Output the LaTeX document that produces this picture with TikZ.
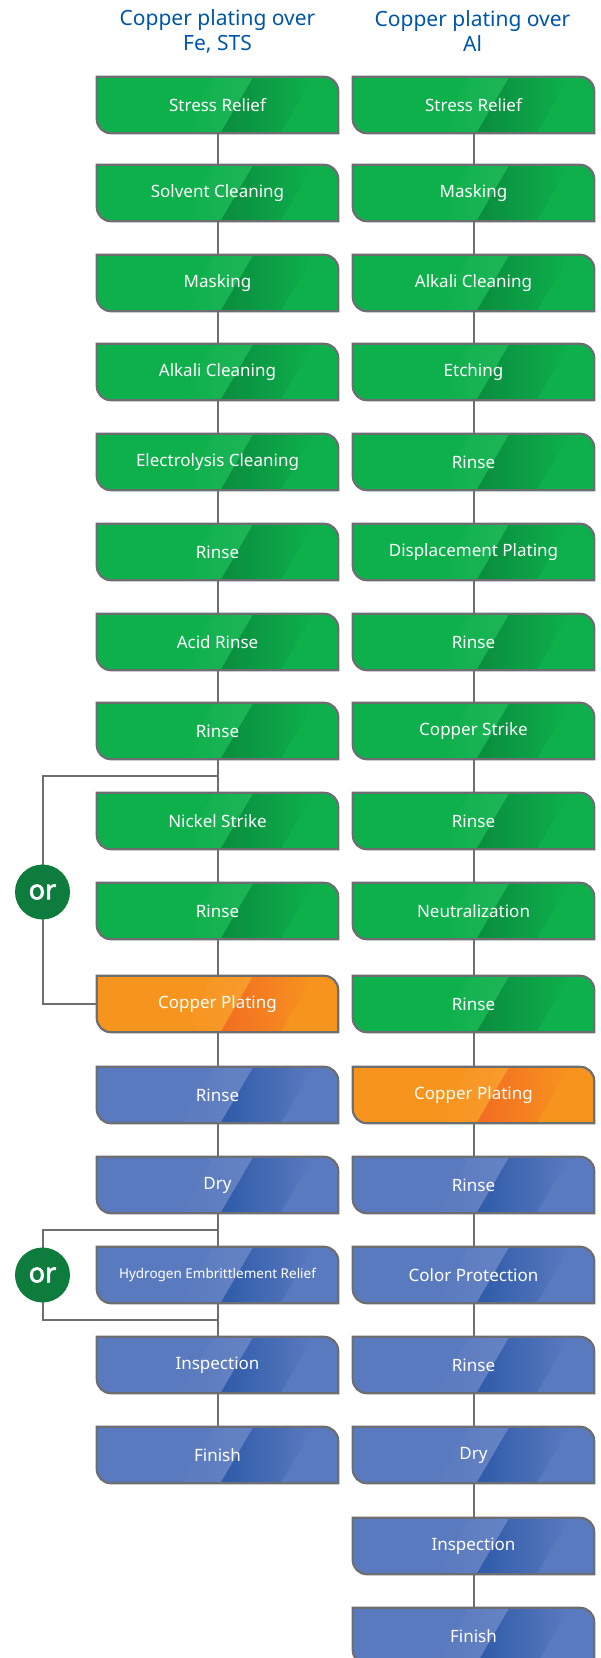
\documentclass[tikz,border=0pt]{standalone}
\usepackage{fontspec}
\setmainfont{Noto Sans}[AutoFakeBold=2.5]
\usepackage{tikz}
\usetikzlibrary{backgrounds, calc}

\definecolor{grnbase}{RGB}{13,176,75}
\definecolor{grndark}{RGB}{10,140,62}
\definecolor{orgbase}{RGB}{247,148,30}
\definecolor{orgdark}{RGB}{242,108,34}
\definecolor{blubase}{RGB}{90,122,191}
\definecolor{bludark}{RGB}{46,90,168}
\definecolor{linegray}{RGB}{109,110,113}
\definecolor{orgreen}{RGB}{14,124,60}
\definecolor{titleblue}{RGB}{0,86,166}

\newcommand{\boxtext}{\fontsize{17}{20}\selectfont}
\newcommand{\smalltext}{\fontsize{13.5}{16}\selectfont}

\tikzset{
  stepbox/.style={minimum width=241pt, minimum height=56pt, inner sep=0pt,
    text=white, font=\boxtext},
  boxline/.style={draw=linegray, line width=2.2pt},
  link/.style={draw=linegray, line width=2pt},
  title/.style={align=center, text=titleblue, font=\fontsize{21}{25}\selectfont},
  orbadge/.style={circle, fill=orgreen, minimum size=55pt, inner sep=0pt,
    text=white, font=\fontsize{27}{27}\selectfont\bfseries}
}

% box outline: round corners top right and bottom left
\newcommand{\paintbox}[2]{%
\begin{scope}[on background layer]
  \begin{scope}
    \clip (#1.north west) -- ([xshift=-14pt]#1.north east)
      arc[start angle=90,end angle=0,radius=14pt] -- (#1.south east)
      -- ([xshift=14pt]#1.south west)
      arc[start angle=270,end angle=180,radius=14pt] -- cycle;
    \fill[#2base] (#1.north west) rectangle (#1.south east);
    \shade[left color=#2base, right color=#2base!93!white]
      ([xshift=-37pt]#1.south) -- ([xshift=-4pt]#1.north)
      -- ([xshift=36pt]#1.north) -- ([xshift=3pt]#1.south) -- cycle;
    \shade[left color=#2dark, right color=#2base]
      ([xshift=3pt]#1.south) -- ([xshift=36pt]#1.north)
      -- ([xshift=96pt]#1.north) -- ([xshift=63pt]#1.south) -- cycle;
  \end{scope}
  \draw[boxline] (#1.north west) -- ([xshift=-14pt]#1.north east)
    arc[start angle=90,end angle=0,radius=14pt] -- (#1.south east)
    -- ([xshift=14pt]#1.south west)
    arc[start angle=270,end angle=180,radius=14pt] -- cycle;
\end{scope}}

\newcommand{\procbox}[5]{%
  \node[stepbox] (#1) at (#2,#3) {#5};
  \paintbox{#1}{#4}}

\begin{document}
\begin{tikzpicture}[x=1pt,y=1pt]
\useasboundingbox (0,0) rectangle (601,-1658);

\node[title] (ttl) at (217.5,-31) {Copper plating over\\Fe, STS};
\node[title] (ttr) at (472.5,-31) {Copper plating over\\Al};

% Fe, STS
\procbox{l1}{217.5}{-105}{grn}{Stress Relief}
\procbox{l2}{217.5}{-193}{grn}{Solvent Cleaning}
\procbox{l3}{217.5}{-283}{grn}{Masking}
\procbox{l4}{217.5}{-372}{grn}{Alkali Cleaning}
\procbox{l5}{217.5}{-462}{grn}{Electrolysis Cleaning}
\procbox{l6}{217.5}{-552}{grn}{Rinse}
\procbox{l7}{217.5}{-642}{grn}{Acid Rinse}
\procbox{l8}{217.5}{-731}{grn}{Rinse}
\procbox{l9}{217.5}{-821}{grn}{Nickel Strike}
\procbox{l10}{217.5}{-911}{grn}{Rinse}
\procbox{l11}{217.5}{-1004}{org}{Copper Plating}
\procbox{l12}{217.5}{-1095}{blu}{Rinse}
\procbox{l13}{217.5}{-1185}{blu}{Dry}
\procbox{l14}{217.5}{-1275}{blu}{\smalltext Hydrogen Embrittlement Relief}
\procbox{l15}{217.5}{-1365}{blu}{Inspection}
\procbox{l16}{217.5}{-1455}{blu}{Finish}

% Al
\procbox{r1}{473.5}{-105}{grn}{Stress Relief}
\procbox{r2}{473.5}{-193}{grn}{Masking}
\procbox{r3}{473.5}{-283}{grn}{Alkali Cleaning}
\procbox{r4}{473.5}{-372}{grn}{Etching}
\procbox{r5}{473.5}{-462}{grn}{Rinse}
\procbox{r6}{473.5}{-552}{grn}{Displacement Plating}
\procbox{r7}{473.5}{-642}{grn}{Rinse}
\procbox{r8}{473.5}{-731}{grn}{Copper Strike}
\procbox{r9}{473.5}{-821}{grn}{Rinse}
\procbox{r10}{473.5}{-911}{grn}{Neutralization}
\procbox{r11}{473.5}{-1004}{grn}{Rinse}
\procbox{r12}{473.5}{-1095}{org}{Copper Plating}
\procbox{r13}{473.5}{-1185}{blu}{Rinse}
\procbox{r14}{473.5}{-1275}{blu}{Color Protection}
\procbox{r15}{473.5}{-1365}{blu}{Rinse}
\procbox{r16}{473.5}{-1455}{blu}{Dry}
\procbox{r17}{473.5}{-1546}{blu}{Inspection}
\procbox{r18}{473.5}{-1636}{blu}{Finish}

\foreach \i [evaluate=\i as \j using int(\i+1)] in {1,...,15}
  \draw[link] (l\i) -- (l\j);
\foreach \i [evaluate=\i as \j using int(\i+1)] in {1,...,17}
  \draw[link] (r\i) -- (r\j);

% or brackets
\node[orbadge] (or1) at (42.5,-892) {or};
\node[orbadge] (or2) at (42.5,-1275) {or};
\coordinate (b1top) at ($(l8.south)!.5!(l9.north)$);
\coordinate (b2top) at ($(l13.south)!.5!(l14.north)$);
\coordinate (b2bot) at ($(l14.south)!.5!(l15.north)$);
\begin{scope}[on background layer]
\draw[link] (b1top) -| (or1.center) |- (l11.west);
\draw[link] (b2top) -| (or2.center) |- (b2bot);
\end{scope}

\end{tikzpicture}
\end{document}
